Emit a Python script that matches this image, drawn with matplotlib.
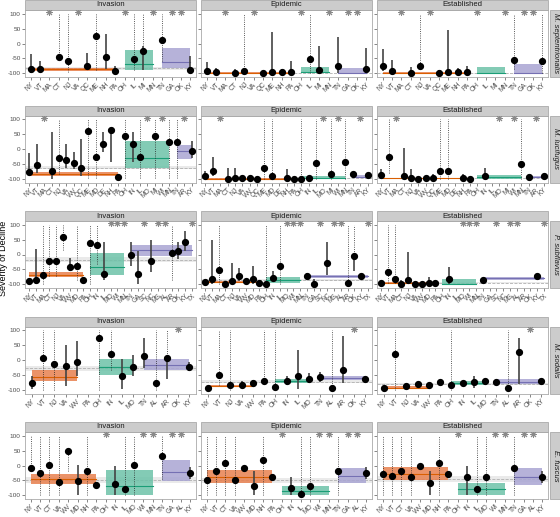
import matplotlib.pyplot as plt
from matplotlib.patches import Rectangle

plt.rcParams['font.family'] = ['Liberation Sans', 'DejaVu Sans']

# ---- data -----------------------------------------------------------------
stages = ['Invasion', 'Epidemic', 'Established']
species = ['M. septentrionalis', 'M. lucifugus', 'P. subflavus', 'M. sodalis', 'E. fuscus']

# M. septentrionalis
sept_states = ['NY', 'VT', 'MA', 'CT', 'NJ', 'VA', 'QC', 'ME', 'NH', 'PA',
               'OH', 'IL', 'MI', 'MN', 'TN', 'GA', 'OK', 'KY']
sept_spans = [(0, 9), (10, 13), (14, 17)]
sept_star = ['MA', 'VA', 'OH', 'MN', 'GA', 'OK']
sept_inv_val = {'NY': -86, 'VT': -84, 'CT': -45, 'NJ': -59, 'QC': -75, 'ME': 25, 'NH': -44,
                'PA': -91, 'IL': -52, 'MI': -24, 'TN': 11, 'KY': -89}
sept_inv_bar = {'NY': (-100, -35), 'VT': (-94, -59), 'QC': (-86, -32), 'NH': (-86, 32),
                'PA': (-100, -75), 'MI': (-90, -10), 'KY': (-100, -42)}
sept_inv_dot = {'CT': (-45, 100), 'NJ': (-95, 100), 'ME': (-90, 100), 'IL': (-90, 100),
                'MI': (-10, 100), 'TN': (-60, 100)}
sept_inv_band = [(-86, -91, -81), (-70, -89, -21), (-62, -83, -16), (-83, -88, -78)]

sept_epi_val = {'NY': -91, 'VT': -96, 'CT': -99, 'NJ': -91, 'QC': -99, 'ME': -96, 'NH': -96,
                'PA': -94, 'IL': -52, 'MI': -90, 'TN': -74, 'KY': -84}
sept_epi_bar = {'NY': (-100, -62), 'VT': (-100, -81), 'CT': (-100, -84), 'QC': (-100, -92),
                'ME': (-100, 38), 'NH': (-100, -84), 'PA': (-100, -59), 'MI': (-100, -8),
                'TN': (-100, 22), 'KY': (-100, -14)}
sept_epi_dot = {'NJ': (-97, 100), 'IL': (-100, 100)}
sept_epi_band = [(-98, -100, -96), (-95, -98, -77), (-97, -98, -83), (-98, -99, -97)]

sept_est_val = {'NY': -75, 'VT': -91, 'CT': -99, 'NJ': -75, 'QC': -97, 'ME': -94, 'NH': -96,
                'PA': -94, 'TN': -54, 'KY': -59}
sept_est_bar = {'NY': (-91, -19), 'VT': (-97, -56), 'CT': (-100, -80), 'QC': (-100, -88),
                'ME': (-100, 45), 'NH': (-100, -82), 'PA': (-100, -75)}
sept_est_dot = {'NJ': (-86, 100), 'TN': (-86, 100), 'KY': (-100, 100)}
sept_est_band = [(-98, -100, -96), (-98, -99, -77), (-97, -99, -70), (-98, -99, -97)]

# M. lucifugus
luci_states = ['NY', 'VT', 'MA', 'CT', 'NJ', 'VA', 'WV', 'QC', 'ME', 'MD', 'DE', 'NH', 'PA',
               'OH', 'IN', 'IL', 'MO', 'MI', 'WI', 'MN', 'TN', 'AR', 'KY']
luci_spans = [(0, 12), (13, 19), (20, 22)]
luci_star = ['MA', 'MO', 'WI', 'AR']
luci_inv_val = {'NY': -77, 'VT': -53, 'CT': -73, 'NJ': -31, 'VA': -37, 'WV': -48, 'QC': -64,
                'ME': 60, 'MD': -28, 'DE': 16, 'NH': 62, 'PA': -92, 'OH': 45, 'IN': 16,
                'IL': -28, 'MI': 45, 'MN': 23, 'TN': 23, 'KY': -6}
luci_inv_bar = {'NY': (-84, -15), 'VT': (-80, 18), 'CT': (-100, 56), 'VA': (-64, 16),
                'WV': (-66, -9), 'QC': (-91, 32), 'DE': (-11, 56), 'NH': (-42, 62),
                'PA': (-100, -84), 'IN': (-44, 56), 'KY': (-30, 28)}
luci_inv_dot = {'NJ': (-82, 100), 'ME': (-98, 100), 'MD': (-98, 100), 'OH': (-98, 100),
                'IL': (-98, 100), 'MI': (-98, 100), 'MN': (-98, 100), 'TN': (-98, 100)}
luci_inv_band = [(-83, -89, -77), (-29, -62, 26), (-7, -33, 15), (-62, -67, -57)]

luci_epi_val = {'NY': -89, 'VT': -75, 'CT': -100, 'NJ': -97, 'VA': -97, 'WV': -97, 'QC': -100,
                'ME': -64, 'MD': -91, 'NH': -97, 'PA': -100, 'OH': -100, 'IN': -97,
                'IL': -48, 'MI': -84, 'MN': -42, 'TN': -84, 'KY': -86}
luci_epi_bar = {'NY': (-100, -73), 'VT': (-91, -26), 'CT': (-100, -62), 'NJ': (-100, -62),
                'NH': (-100, -66)}
luci_epi_dot = {'ME': (-100, 100), 'MD': (-100, 100), 'OH': (-100, 100), 'IL': (-100, 100),
                'MI': (-100, 100), 'MN': (-100, 100)}
luci_epi_band = [(-99, -100, -97), (-97, -100, -89), (-92, -94, -88), (-97, -98, -96)]

luci_est_val = {'NY': -86, 'VT': -26, 'CT': -89, 'NJ': -97, 'VA': -99, 'WV': -97, 'QC': -97,
                'ME': -73, 'MD': -75, 'NH': -97, 'PA': -99, 'IN': -91, 'MN': -49,
                'TN': -93, 'KY': -91}
luci_est_bar = {'NY': (-100, -67), 'CT': (-100, 4), 'NJ': (-100, -67), 'QC': (-100, -82),
                'NH': (-100, -82), 'IN': (-100, -64)}
luci_est_dot = {'VT': (-80, 100), 'ME': (-100, 100), 'MD': (-100, 100), 'MN': (-100, 100)}
luci_est_band = [(-98, -100, -97), (-95, -100, -86), (-94, -96, -89), (-97, -98, -96)]

# P. subflavus
subf_states = ['NY', 'VT', 'MA', 'CT', 'NJ', 'VA', 'WV', 'MD', 'PA', 'OH', 'IN', 'IL', 'MO',
               'WI', 'MN', 'TN', 'GA', 'SC', 'NC', 'MS', 'AL', 'AR', 'OK', 'KY', 'TX']
subf_spans = [(0, 8), (9, 14), (15, 24)]
subf_star = ['MO', 'WI', 'MN', 'SC', 'MS', 'AL', 'TX']
subf_inv_val = {'NY': -88, 'VT': -84, 'MA': -67, 'CT': -21, 'NJ': -21, 'VA': 59, 'WV': -43,
                'MD': -38, 'PA': -86, 'OH': 38, 'IN': 32, 'IL': -65, 'TN': 0, 'GA': -65,
                'NC': -21, 'AR': 5, 'OK': 11, 'KY': 43}
subf_inv_bar = {'NY': (-95, -81), 'VT': (-99, 19), 'WV': (-56, -11), 'PA': (-95, -78),
                'IL': (-86, 43), 'TN': (-38, 43), 'GA': (-99, 11), 'NC': (-59, 48),
                'OK': (-16, 43), 'KY': (11, 79)}
subf_inv_dot = {'MA': (-99, 100), 'CT': (-73, 100), 'NJ': (-73, 100), 'VA': (15, 100),
                'MD': (-84, 100), 'OH': (-99, 100), 'IN': (-32, 100), 'AR': (-84, 100)}
subf_inv_band = [(-68, -75, -60), (-41, -68, 5), (14, -5, 32), (-17, -25, -10)]

subf_epi_val = {'NY': -91, 'VT': -81, 'MA': -52, 'CT': -97, 'NJ': -89, 'VA': -73, 'WV': -89,
                'MD': -81, 'PA': -94, 'OH': -99, 'IN': -77, 'IL': -38, 'TN': -72, 'GA': -99,
                'NC': -27, 'AR': -94, 'OK': -5, 'KY': -71}
subf_epi_bar = {'NY': (-100, -85), 'VT': (-100, 48), 'NJ': (-100, -27), 'VA': (-90, -46),
                'MD': (-98, -40), 'IN': (-86, -56), 'TN': (-82, -61), 'GA': (-100, -82),
                'NC': (-70, 43), 'OK': (-54, -5)}
subf_epi_dot = {'MA': (-100, 100), 'OH': (-100, 100), 'IL': (-100, 100), 'AR': (-100, 100),
                'OK': (-5, 100)}
subf_epi_band = [(-92, -94, -90), (-85, -95, -75), (-72, -77, -67), (-86, -89, -83)]

subf_est_val = {'NY': -95, 'VT': -59, 'MA': -81, 'CT': -99, 'NJ': -84, 'VA': -99, 'WV': -97,
                'MD': -95, 'PA': -94, 'IN': -81, 'TN': -86, 'KY': -73}
subf_est_bar = {'CT': (-100, -84), 'NJ': (-100, 8), 'MD': (-100, -75), 'IN': (-100, -43),
                'KY': (-82, -65)}
subf_est_dot = {'VT': (-95, 100), 'MA': (-95, 100)}
subf_est_band = [(-96, -98, -93), (-98, -99, -81), (-79, -84, -75), (-94, -95, -93)]

# M. sodalis
soda_states = ['NY', 'VT', 'NJ', 'VA', 'WV', 'PA', 'OH', 'IN', 'IL', 'MO',
               'TN', 'AL', 'AR', 'OK', 'KY']
soda_spans = [(0, 4), (6, 9), (10, 14)]
soda_star = ['OK']
soda_inv_val = {'NY': -78, 'VT': 7, 'NJ': -15, 'VA': -19, 'WV': -8, 'OH': 73, 'IN': 19,
                'IL': -52, 'MO': -25, 'TN': 12, 'AL': -78, 'AR': 8, 'KY': -24}
soda_inv_bar = {'NY': (-98, -55), 'VA': (-87, 51), 'WV': (-55, 62), 'IL': (-98, 5),
                'MO': (-55, 16), 'TN': (-28, 73), 'AR': (-63, 8), 'KY': (-38, -6)}
soda_inv_dot = {'VT': (-100, 100), 'NJ': (-100, 100), 'OH': (-100, 100), 'IN': (-35, 100),
                'AL': (-100, 100), 'AR': (8, 100)}
soda_inv_band = [(-57, -71, -35), (-24, -49, 5), (-17, -33, 3), (-28, -37, -20)]

soda_epi_val = {'NY': -92, 'VT': -49, 'NJ': -82, 'VA': -82, 'WV': -78, 'PA': -71, 'OH': -89,
                'IN': -71, 'IL': -55, 'MO': -62, 'TN': -57, 'AL': -92, 'AR': -35, 'KY': -63}
soda_epi_bar = {'VA': (-92, -71), 'WV': (-89, -66), 'IN': (-82, -55), 'IL': (-98, 35),
                'MO': (-78, -44), 'TN': (-74, -39), 'AR': (-78, 81)}
soda_epi_dot = {'VT': (-82, 100), 'NJ': (-100, 100), 'PA': (-71, 100), 'OH': (-100, 100),
                'AL': (-100, 100)}
soda_epi_band = [(-86, -89, -82), (-71, -78, -62), (-59, -68, -52), (-73, -78, -68)]

soda_est_val = {'NY': -95, 'VT': 20, 'NJ': -88, 'VA': -80, 'WV': -82, 'PA': -75, 'OH': -85,
                'IN': -78, 'IL': -75, 'MO': -70, 'TN': -75, 'AL': -95, 'AR': 27, 'KY': -70}
soda_est_bar = {'IL': (-95, -55), 'AR': (-80, 75)}
soda_est_dot = {'VT': (-100, 100), 'OH': (-100, 100), 'AL': (-100, 100)}
soda_est_band = [(-92, -95, -88), (-78, -85, -70), (-72, -80, -62), (-80, -84, -76)]

# E. fuscus
fusc_states = ['NY', 'VT', 'CT', 'VA', 'WV', 'MD', 'NH', 'PA', 'OH', 'IN', 'IL', 'MO',
               'WI', 'MN', 'TN', 'GA', 'AL', 'KY']
fusc_spans = [(0, 7), (8, 13), (14, 17)]
fusc_star = ['OH', 'WI', 'MN', 'GA', 'AL']
fusc_inv_val = {'NY': -10, 'VT': -24, 'CT': 3, 'VA': -54, 'WV': 49, 'MD': -51, 'NH': -18,
                'PA': -64, 'IN': -62, 'IL': -78, 'MO': 1, 'TN': 33, 'KY': -25}
fusc_inv_bar = {'MD': (-100, 3), 'PA': (-72, -56), 'IN': (-100, 0), 'KY': (-45, -5)}
fusc_inv_dot = {'NY': (-10, 100), 'VT': (-100, 100), 'CT': (-100, 100), 'VA': (-100, 100),
                'WV': (-20, 49), 'NH': (-100, 100), 'IL': (-100, 100), 'MO': (-100, 100),
                'TN': (-45, 100)}
fusc_inv_band = [(-44, -62, -28), (-68, -98, -16), (-22, -51, 19), (-48, -57, -40)]

fusc_epi_val = {'NY': -50, 'VT': -20, 'CT': 10, 'VA': -50, 'WV': -10, 'MD': -70, 'NH': 20,
                'PA': -40, 'IN': -75, 'IL': -95, 'MO': -70, 'TN': -20, 'KY': -25}
fusc_epi_bar = {'MD': (-100, -20), 'IN': (-100, -40), 'KY': (-45, -5)}
fusc_epi_dot = {'NY': (-100, 100), 'VT': (-100, 100), 'CT': (-100, 100), 'VA': (-100, 100),
                'NH': (-100, 100), 'IL': (-100, 100), 'MO': (-100, 100), 'TN': (-100, 100)}
fusc_epi_band = [(-38, -60, -15), (-85, -100, -70), (-35, -60, -10), (-50, -58, -42)]

fusc_est_val = {'NY': -30, 'VT': -35, 'CT': -20, 'VA': -40, 'WV': 0, 'MD': -60, 'NH': 10,
                'PA': -30, 'IN': -40, 'IL': -80, 'MO': -40, 'TN': -10, 'KY': -40}
fusc_est_bar = {'MD': (-100, -20), 'IN': (-100, 0), 'KY': (-60, -20)}
fusc_est_dot = {'NY': (-100, 100), 'VT': (-100, 100), 'CT': (-100, 100), 'VA': (-100, 100),
                'NH': (-100, 100), 'IL': (-100, 100), 'MO': (-100, 100), 'TN': (-100, 100)}
fusc_est_band = [(-30, -50, -5), (-80, -100, -60), (-40, -65, -10), (-45, -55, -35)]

rows = [
    (sept_states, sept_spans, sept_star,
     [(sept_inv_val, sept_inv_bar, sept_inv_dot, sept_inv_band),
      (sept_epi_val, sept_epi_bar, sept_epi_dot, sept_epi_band),
      (sept_est_val, sept_est_bar, sept_est_dot, sept_est_band)]),
    (luci_states, luci_spans, luci_star,
     [(luci_inv_val, luci_inv_bar, luci_inv_dot, luci_inv_band),
      (luci_epi_val, luci_epi_bar, luci_epi_dot, luci_epi_band),
      (luci_est_val, luci_est_bar, luci_est_dot, luci_est_band)]),
    (subf_states, subf_spans, subf_star,
     [(subf_inv_val, subf_inv_bar, subf_inv_dot, subf_inv_band),
      (subf_epi_val, subf_epi_bar, subf_epi_dot, subf_epi_band),
      (subf_est_val, subf_est_bar, subf_est_dot, subf_est_band)]),
    (soda_states, soda_spans, soda_star,
     [(soda_inv_val, soda_inv_bar, soda_inv_dot, soda_inv_band),
      (soda_epi_val, soda_epi_bar, soda_epi_dot, soda_epi_band),
      (soda_est_val, soda_est_bar, soda_est_dot, soda_est_band)]),
    (fusc_states, fusc_spans, fusc_star,
     [(fusc_inv_val, fusc_inv_bar, fusc_inv_dot, fusc_inv_band),
      (fusc_epi_val, fusc_epi_bar, fusc_epi_dot, fusc_epi_band),
      (fusc_est_val, fusc_est_bar, fusc_est_dot, fusc_est_band)]),
]

# ---- layout (pixels) --------------------------------------------------------
W, H = 560, 517
col_left = [25, 201, 377]
col_w = 171
row_top = [10, 115.5, 221, 326.5, 432]
row_h = 67
strip_h = 10
fill_cols = ['#E8804F', '#6DC2A8', '#A9A5D3']
line_cols = ['#D95F02', '#1B9E77', '#7570B3']

fig = plt.figure(figsize=(W / 100, H / 100), dpi=100)

for r, (states, spans, stars, panels) in enumerate(rows):
    n = len(states)
    for c, (val, bar, dot, band) in enumerate(panels):
        ax = fig.add_axes([col_left[c] / W, 1 - (row_top[r] + row_h) / H,
                           col_w / W, row_h / H])
        ax.set_xlim(-0.6, n - 0.4)
        ax.set_ylim(-112, 112)
        # overall mean
        m, lo, hi = band[3]
        ax.axhspan(lo, hi, color='#d9d9d9', alpha=0.55, lw=0, zorder=1)
        ax.axhline(m, color='#b0b0b0', ls='--', lw=0.6, zorder=1.5)
        # stage groups
        for g, (a, b) in enumerate(spans):
            m, lo, hi = band[g]
            ax.add_patch(Rectangle((a, lo), b - a, hi - lo, facecolor=fill_cols[g],
                                   edgecolor='none', alpha=0.85, zorder=2))
            ax.plot([a, b], [m, m], color=line_cols[g], lw=0.8, zorder=2.5)
        # states
        for i, s in enumerate(states):
            if s in dot:
                ax.vlines(i, dot[s][0], dot[s][1], colors='#222222', linestyles=':',
                          lw=0.6, zorder=3)
            if s in bar:
                ax.vlines(i, bar[s][0], bar[s][1], colors='#444444', lw=1.2, zorder=3.5)
            if s in val:
                ax.plot(i, val[s], 'o', color='black', ms=4.2, zorder=4)
            if s in stars:
                ax.plot(i, 104, marker=(8, 2, 0), color='#8a8a8a', ms=5, mew=0.7, zorder=4)
        ax.set_yticks([-100, -50, 0, 50, 100])
        ax.set_xticks(range(n))
        ax.set_xticklabels(states, rotation=45, ha='right', rotation_mode='anchor',
                           fontsize=4.8, color='#4d4d4d')
        if c == 0:
            ax.set_yticklabels(['-100', '-50', '0', '50', '100'], fontsize=4.6, color='#4d4d4d')
        else:
            ax.set_yticklabels([])
        ax.tick_params(length=2, width=0.5, color='#555555', pad=1)
        for sp in ax.spines.values():
            sp.set_color('#aaaaaa')
            sp.set_linewidth(0.6)
        # top strip
        ax.add_patch(Rectangle((0, 1), 1, strip_h / row_h, transform=ax.transAxes,
                               facecolor='#cccccc', edgecolor='#aaaaaa', lw=0.6,
                               clip_on=False))
        ax.text(0.5, 1 + strip_h / row_h / 2, stages[c], transform=ax.transAxes,
                ha='center', va='center', fontsize=5.5, color='#1a1a1a')
        # side strip
        if c == 2:
            ax.add_patch(Rectangle((1 + 1.5 / col_w, 0), 11 / col_w, 1,
                                   transform=ax.transAxes, facecolor='#cccccc',
                                   edgecolor='#aaaaaa', lw=0.6, clip_on=False))
            ax.text(1 + 7 / col_w, 0.5, species[r], transform=ax.transAxes,
                    rotation=-90, ha='center', va='center', fontsize=5.5,
                    style='italic', color='#1a1a1a')

fig.text(4 / W, 0.5, 'Severity of Decline', rotation=90, ha='center', va='center',
         fontsize=6.5)

fig.savefig('out.png', dpi=100)
